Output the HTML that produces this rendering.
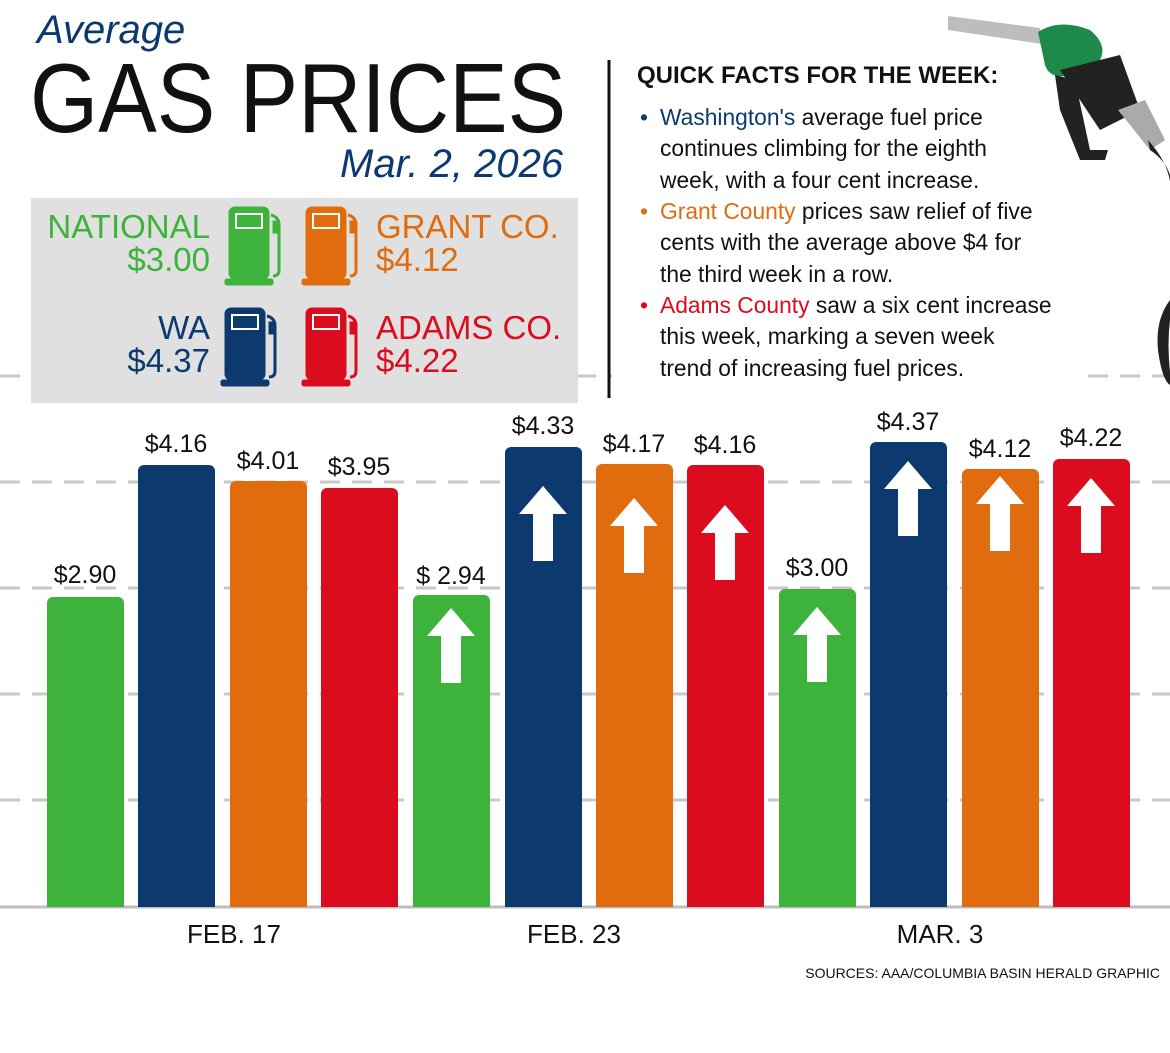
<!DOCTYPE html>
<html><head><meta charset="utf-8"><style>
body{margin:0;width:1170px;height:1053px;background:#fff;position:relative;overflow:hidden;font-family:"Liberation Sans",sans-serif}
.a{position:absolute;white-space:nowrap}
.bar{position:absolute;border-radius:6px 6px 0 0}
.lbl{position:absolute;width:100px;text-align:center;font-size:25px;color:#111}
.qf{position:absolute;left:660px;font-size:22.8px;line-height:31.3px;color:#111;white-space:nowrap}
.dot{position:absolute;left:-20px}
</style></head><body>
<svg class="a" style="left:0;top:0" width="1170" height="1053">
<g stroke="#c8c8c8" stroke-width="3" stroke-dasharray="20 12">
<line x1="0" y1="376" x2="1170" y2="376"/>
<line x1="0" y1="482" x2="1170" y2="482"/>
<line x1="0" y1="588" x2="1170" y2="588"/>
<line x1="0" y1="694" x2="1170" y2="694"/>
<line x1="0" y1="800" x2="1170" y2="800"/>
</g>
<line x1="0" y1="907" x2="1170" y2="907" stroke="#bdbdbd" stroke-width="3"/>
<line x1="609" y1="60" x2="609" y2="398" stroke="#111" stroke-width="3"/>
<g>
<path d="M948 16 L1040 28 L1042 44 L948 30 Z" fill="#bdbdbd"/>
<path d="M1038 32 Q1060 18 1090 30 Q1108 45 1100 60 L1070 75 Q1050 80 1045 65 Z" fill="#1e8a4a"/>
<path d="M1060 70 L1120 55 L1140 110 L1100 130 Z" fill="#222"/>
<path d="M1055 75 L1075 80 L1090 150 L1108 150 L1105 160 L1080 160 L1060 110 Z" fill="#222"/>
<path d="M1118 110 L1145 100 L1165 140 L1150 150 Z" fill="#aaa"/>
<path d="M1148 140 Q1175 170 1170 200 L1170 175 Q1165 160 1150 150 Z" fill="#222"/>
<path d="M1170 300 Q1155 320 1158 350 Q1162 380 1170 385 L1170 372 Q1167 345 1170 320 Z" fill="#222"/>
</g>
</svg>
<div class="a" style="left:37px;top:8px;font-size:40px;font-style:italic;color:#0d3a6e">Average</div>
<div class="a" style="left:30px;top:42px;font-size:98px;color:#111;transform:scaleX(0.895);transform-origin:0 0">GAS PRICES</div>
<div class="a" style="left:340px;top:142px;font-size:40px;font-style:italic;color:#0d3a6e">Mar. 2, 2026</div>
<div class="a" style="left:31px;top:198px;width:547px;height:205px;background:#e0e0e0"></div>
<div class="a" style="left:30px;width:180px;text-align:right;top:210px;font-size:33px;line-height:33px;color:#3db33b">NATIONAL<br>$3.00</div>
<div class="a" style="left:376px;top:210px;font-size:33px;line-height:33px;color:#e06c0e">GRANT CO.<br>$4.12</div>
<div class="a" style="left:30px;width:180px;text-align:right;top:311px;font-size:33px;line-height:33px;color:#0d3a6e">WA<br>$4.37</div>
<div class="a" style="left:376px;top:311px;font-size:33px;line-height:33px;color:#dc0c1f">ADAMS CO.<br>$4.22</div>
<svg class="a" style="left:0;top:0" width="600" height="420">
<defs><g id="p"><rect x="0" y="0" width="40" height="72" rx="6"/><rect x="-4" y="72" width="48" height="6" rx="2"/><path d="M42 8 q8 2 8 10 v45 q0 6 -6 6" fill="none" stroke-width="3"/><rect x="44" y="14" width="6" height="12"/></g></defs>
<g fill="#3db33b" stroke="#3db33b"><use href="#p" x="229" y="207"/></g>
<g fill="#e06c0e" stroke="#e06c0e"><use href="#p" x="306" y="207"/></g>
<g fill="#0d3a6e" stroke="#0d3a6e"><use href="#p" x="225" y="308"/></g>
<g fill="#dc0c1f" stroke="#dc0c1f"><use href="#p" x="306" y="308"/></g>
<g fill="none" stroke="#fff" stroke-width="2">
<rect x="236" y="214" width="26" height="14"/><rect x="313" y="214" width="26" height="14"/><rect x="232" y="315" width="26" height="14"/><rect x="313" y="315" width="26" height="14"/>
</g>
</svg>
<div class="a" style="left:612px;top:360px;width:470px;height:30px;background:#fff"></div>
<div class="a" style="left:637px;top:62px;font-size:24px;font-weight:bold;color:#111">QUICK FACTS FOR THE WEEK:</div>
<div class="qf" style="top:102px"><span class="dot" style="color:#0d3a6e">•</span><span style="color:#0d3a6e">Washington's</span> average fuel price<br>continues climbing for the eighth<br>week, with a four cent increase.</div>
<div class="qf" style="top:196px"><span class="dot" style="color:#e06c0e">•</span><span style="color:#e06c0e">Grant County</span> prices saw relief of five<br>cents with the average above $4 for<br>the third week in a row.</div>
<div class="qf" style="top:290px"><span class="dot" style="color:#dc0c1f">•</span><span style="color:#dc0c1f">Adams County</span> saw a six cent increase<br>this week, marking a seven week<br>trend of increasing fuel prices.</div>

<div class="bar" style="left:47px;top:597px;width:77px;height:310px;background:#3db33b"></div>
<div class="bar" style="left:138px;top:465px;width:77px;height:442px;background:#0d3a6e"></div>
<div class="bar" style="left:230px;top:481px;width:77px;height:426px;background:#e06c0e"></div>
<div class="bar" style="left:321px;top:488px;width:77px;height:419px;background:#dc0c1f"></div>
<div class="bar" style="left:413px;top:595px;width:77px;height:312px;background:#3db33b"></div>
<div class="bar" style="left:505px;top:447px;width:77px;height:460px;background:#0d3a6e"></div>
<div class="bar" style="left:596px;top:464px;width:77px;height:443px;background:#e06c0e"></div>
<div class="bar" style="left:687px;top:465px;width:77px;height:442px;background:#dc0c1f"></div>
<div class="bar" style="left:779px;top:589px;width:77px;height:318px;background:#3db33b"></div>
<div class="bar" style="left:870px;top:442px;width:77px;height:465px;background:#0d3a6e"></div>
<div class="bar" style="left:962px;top:469px;width:77px;height:438px;background:#e06c0e"></div>
<div class="bar" style="left:1053px;top:459px;width:77px;height:448px;background:#dc0c1f"></div>

<svg class="a" style="left:0;top:0" width="1170" height="1053">
<defs><path id="ar" d="M0 0 L24 28 L10 28 L10 75 L-10 75 L-10 28 L-24 28 Z" fill="#fff"/></defs>
<use href="#ar" x="451" y="608"/>
<use href="#ar" x="543" y="486"/>
<use href="#ar" x="634" y="498"/>
<use href="#ar" x="725" y="505"/>
<use href="#ar" x="817" y="607"/>
<use href="#ar" x="908" y="461"/>
<use href="#ar" x="1000" y="476"/>
<use href="#ar" x="1091" y="478"/>
</svg>

<div class="lbl" style="left:35px;top:561px">$2.90</div>
<div class="lbl" style="left:126px;top:430px">$4.16</div>
<div class="lbl" style="left:218px;top:447px">$4.01</div>
<div class="lbl" style="left:309px;top:453px">$3.95</div>
<div class="lbl" style="left:401px;top:562px">$ 2.94</div>
<div class="lbl" style="left:493px;top:412px">$4.33</div>
<div class="lbl" style="left:584px;top:430px">$4.17</div>
<div class="lbl" style="left:675px;top:431px">$4.16</div>
<div class="lbl" style="left:767px;top:554px">$3.00</div>
<div class="lbl" style="left:858px;top:408px">$4.37</div>
<div class="lbl" style="left:950px;top:435px">$4.12</div>
<div class="lbl" style="left:1041px;top:424px">$4.22</div>

<div class="a" style="left:134px;width:200px;text-align:center;top:919px;font-size:26px;color:#111">FEB. 17</div>
<div class="a" style="left:474px;width:200px;text-align:center;top:919px;font-size:26px;color:#111">FEB. 23</div>
<div class="a" style="left:840px;width:200px;text-align:center;top:919px;font-size:26px;color:#111">MAR. 3</div>
<div class="a" style="right:10px;top:965px;font-size:14px;color:#111">SOURCES: AAA/COLUMBIA BASIN HERALD GRAPHIC</div>
</body></html>
